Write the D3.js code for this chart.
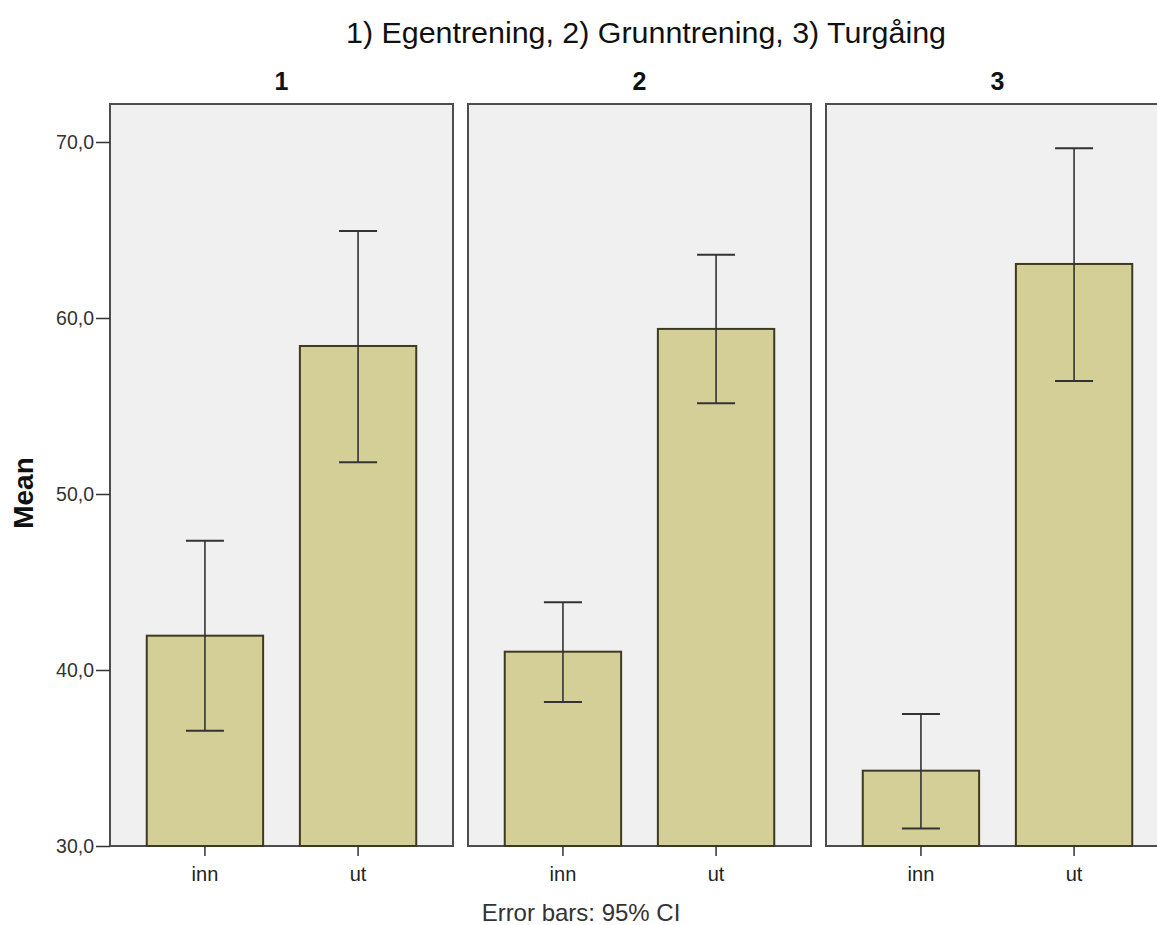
<!DOCTYPE html>
<html><head><meta charset="utf-8">
<script src="https://cdn.jsdelivr.net/npm/d3@7"></script>
<style>body{margin:0;background:#fff}svg{display:block}</style>
</head><body>
<svg id="c" width="1157" height="925"></svg>
<script>
const panels = ["1", "2", "3"];
const categories = ["inn", "ut"];
const means = [[41.95, 58.41], [41.04, 59.38], [34.28, 63.07]];
const ciLow = [[36.55, 51.80], [38.18, 55.15], [31.00, 56.42]];
const ciHigh = [[47.35, 64.94], [43.85, 63.60], [37.50, 69.64]];
const yTicks = [30, 40, 50, 60, 70];
const title = "1) Egentrening, 2) Grunntrening, 3) Turgåing";
const yLabel = "Mean";
const footnote = "Error bars: 95% CI";

const svg = d3.select("#c");
const font = "Liberation Sans, Arial, sans-serif";
const panelTop = 104, panelBottom = 846;
const y = d3.scaleLinear().domain([30, 70]).range([panelBottom, 142]);
const fx = d3.scaleBand().domain(panels).range([110, 1169]).paddingInner(15/358).paddingOuter(0);
const x = d3.scaleBand().domain(categories).range([0, fx.bandwidth()]).padding(0.24);

svg.append("text").attr("x", 646).attr("y", 43).attr("text-anchor", "middle")
  .attr("font-family", font).attr("font-size", 29).attr("fill", "#111")
  .attr("textLength", 600).attr("lengthAdjust", "spacingAndGlyphs").text(title);

panels.forEach((p, i) => {
  const g = svg.append("g").attr("transform", `translate(${fx(p)},0)`);
  g.append("rect").attr("x", 0).attr("y", panelTop).attr("width", fx.bandwidth()).attr("height", panelBottom - panelTop)
    .attr("fill", "#f0f0f0").attr("stroke", "#4d4d4d").attr("stroke-width", 2);
  g.append("text").attr("x", fx.bandwidth()/2).attr("y", 90).attr("text-anchor", "middle")
    .attr("font-family", font).attr("font-weight", "bold").attr("font-size", 25).attr("fill", "#111").text(p);
  categories.forEach((c, j) => {
    g.append("rect").attr("x", x(c)).attr("y", y(means[i][j])).attr("width", x.bandwidth())
      .attr("height", panelBottom - y(means[i][j]))
      .attr("fill", "#d3cf97").attr("stroke", "#3d3a22").attr("stroke-width", 2);
    const cx = x(c) + x.bandwidth()/2;
    g.append("line").attr("x1", cx).attr("x2", cx).attr("y1", y(ciLow[i][j])).attr("y2", y(ciHigh[i][j]))
      .attr("stroke", "#333").attr("stroke-width", 1.6);
    [ciLow[i][j], ciHigh[i][j]].forEach(v => {
      g.append("line").attr("x1", cx - 19).attr("x2", cx + 19).attr("y1", y(v)).attr("y2", y(v))
        .attr("stroke", "#333").attr("stroke-width", 2);
    });
  });
  const xa = d3.axisBottom(x).tickSize(10).tickSizeOuter(0);
  const ax = g.append("g").attr("transform", `translate(0,${panelBottom})`).call(xa);
  ax.select(".domain").remove();
  ax.selectAll(".tick line").attr("stroke", "#333").attr("stroke-width", 1.5);
  ax.selectAll(".tick text").attr("font-family", font).attr("font-size", 20).attr("fill", "#222")
    .attr("y", 35).attr("dy", 0);
});

const ya = d3.axisLeft(y).tickValues(yTicks).tickSize(14).tickFormat(d => d3.format(".1f")(d).replace(".", ","));
const ay = svg.append("g").attr("transform", `translate(${fx("1")},0)`).call(ya);
ay.select(".domain").remove();
ay.selectAll(".tick line").attr("stroke", "#333").attr("stroke-width", 1.5);
ay.selectAll(".tick text").attr("font-family", font).attr("font-size", 19.5).attr("fill", "#333").attr("x", -16);

svg.append("text").attr("transform", `translate(33,${(panelTop+panelBottom)/2 + 18}) rotate(-90)`).attr("text-anchor", "middle")
  .attr("font-family", font).attr("font-weight", "bold").attr("font-size", 28).attr("fill", "#111").text(yLabel);

svg.append("text").attr("x", 581).attr("y", 921).attr("text-anchor", "middle")
  .attr("font-family", font).attr("font-size", 24).attr("fill", "#333").text(footnote);
</script>
</body></html>
